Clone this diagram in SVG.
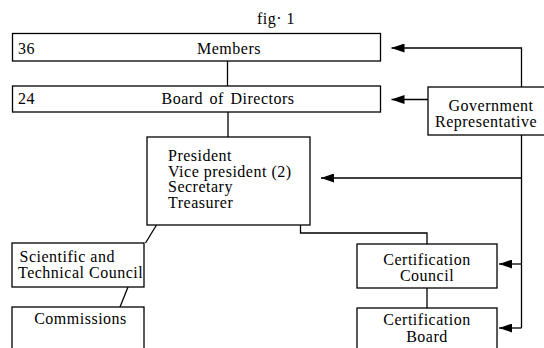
<svg xmlns="http://www.w3.org/2000/svg" width="544" height="348" viewBox="0 0 544 348">
<defs>
<style>
rect{fill:#fff;stroke:#000;stroke-width:1.3}
text{font-family:"Liberation Serif","Times New Roman",serif;font-size:16px;fill:#000;letter-spacing:0.5px}
.c{text-anchor:middle}
#connectors path{fill:none;stroke:#000;stroke-width:1.3}
</style>
<marker id="ah" viewBox="0 0 13 9" refX="13" refY="4.5" markerWidth="13" markerHeight="9" markerUnits="userSpaceOnUse" orient="auto">
<path d="M0,0 L13,4.5 L0,9 z" fill="#000"/>
</marker>
</defs>
<rect x="0" y="0" width="544" height="348" style="fill:#fff;stroke:none"/>
<text class="c" x="276" y="23.5">fig· 1</text>
<g id="connectors">
<path d="M227.5,61 V86"/>
<path d="M228,112 V137"/>
<path d="M521.5,87 V48 H391.5" marker-end="url(#ah)"/>
<path d="M428,99.5 H391.5" marker-end="url(#ah)"/>
<path d="M521.5,135 V328"/>
<path d="M521.5,178 H321" marker-end="url(#ah)"/>
<path d="M521.5,264 H499" marker-end="url(#ah)"/>
<path d="M521.5,328 H499" marker-end="url(#ah)"/>
<path d="M156.5,225 L145.5,243"/>
<path d="M128,287 L120,307"/>
<path d="M300.5,225 V233 H427 V244"/>
<path d="M427,288 V308"/>
</g>
<g id="members">
<rect x="12.5" y="33.5" width="368" height="27.5"/>
<text x="18" y="53.5">36</text>
<text class="c" x="229" y="53.5">Members</text>
</g>
<g id="board">
<rect x="12.5" y="86" width="368" height="26"/>
<text x="18" y="104">24</text>
<text class="c" x="228" y="104" style="word-spacing:2px">Board of Directors</text>
</g>
<g id="government">
<rect x="428" y="87" width="120" height="48"/>
<text class="c" x="491" y="110.5">Government</text>
<text class="c" x="486" y="126.5">Representative</text>
</g>
<g id="president">
<rect x="147" y="137" width="163" height="88"/>
<text x="168" y="160.5">President</text>
<text x="168" y="176.5">Vice president (2)</text>
<text x="168" y="192">Secretary</text>
<text x="168" y="208">Treasurer</text>
</g>
<g id="scientific">
<rect x="12" y="243" width="132" height="44"/>
<text x="19.5" y="262">Scientific and</text>
<text x="18" y="278">Technical Council</text>
</g>
<g id="commissions">
<rect x="12" y="307" width="132" height="50"/>
<text class="c" x="80.5" y="324">Commissions</text>
</g>
<g id="cert-council">
<rect x="357" y="244" width="140" height="44"/>
<text class="c" x="427" y="265">Certification</text>
<text class="c" x="427" y="280.5">Council</text>
</g>
<g id="cert-board">
<rect x="357" y="308" width="140" height="50"/>
<text class="c" x="427" y="324.5">Certification</text>
<text class="c" x="427" y="341.5">Board</text>
</g>
</svg>
